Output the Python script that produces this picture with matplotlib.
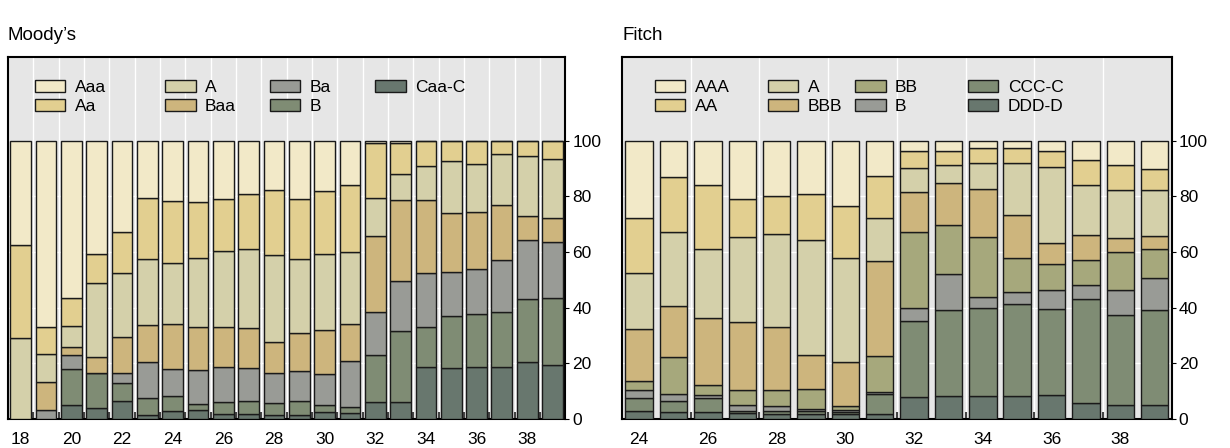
import numpy as np
import matplotlib
matplotlib.use("Agg")
import matplotlib.pyplot as plt
from matplotlib.legend import Legend

plt.rcParams['font.family'] = ['Liberation Sans', 'DejaVu Sans']

# Moody's: share of ratings by year (bottom to top)
moody_years = list(range(18, 40))
moody_labels = ["Caa-C", "B", "Ba", "Baa", "A", "Aa", "Aaa"]
moody_caa = [0, 0, 5.1, 3.9, 6.6, 1.6, 2.7, 3.3, 1.9, 1.8, 1.6, 1.6, 2.4, 2.1, 6.0, 6.0, 18.6, 18.5, 18.6, 18.6, 20.4, 19.3]
moody_b   = [0, 0, 12.8, 12.6, 6.5, 5.9, 5.4, 2.1, 4.3, 4.5, 4.1, 4.7, 2.6, 2.1, 17.0, 25.6, 14.3, 18.4, 19.0, 19.8, 22.6, 24.3]
moody_ba  = [0, 3.3, 5.1, 0, 3.4, 13.1, 9.8, 12.3, 12.4, 12.0, 11.0, 10.8, 11.2, 16.7, 15.4, 17.9, 19.5, 16.0, 16.1, 18.8, 21.4, 20.1]
moody_baa = [0, 9.9, 2.7, 5.9, 13.1, 13.2, 16.2, 15.5, 14.6, 14.3, 11.1, 13.7, 15.8, 13.2, 27.4, 29.0, 26.4, 21.1, 20.6, 19.6, 8.4, 8.5]
moody_a   = [29.0, 10.1, 7.7, 26.5, 22.7, 23.6, 22.0, 24.7, 27.2, 28.3, 31.0, 26.8, 27.4, 25.9, 13.7, 9.6, 12.0, 18.5, 17.2, 18.2, 21.6, 21.2]
moody_aa  = [33.4, 9.9, 10.2, 10.3, 14.9, 22.1, 22.1, 20.0, 18.7, 20.0, 23.5, 21.5, 22.5, 24.2, 19.5, 11.2, 9.2, 7.5, 8.5, 5.0, 5.6, 6.6]
moody_aaa = [37.6, 66.8, 56.4, 40.8, 32.8, 20.5, 21.8, 22.1, 20.9, 19.1, 17.7, 20.9, 18.1, 15.8, 1.0, 0.7, 0, 0, 0, 0, 0, 0]

# Fitch: share of ratings by year (bottom to top)
fitch_years = list(range(24, 40))
fitch_labels = ["DDD-D", "CCC-C", "B", "BB", "BBB", "A", "AA", "AAA"]
fitch_ddd = [3.0, 2.5, 2.4, 2.1, 1.9, 1.9, 1.8, 1.9, 7.9, 8.1, 8.1, 8.1, 8.5, 5.7, 5.0, 5.0]
fitch_ccc = [4.5, 4.1, 5.0, 0.9, 0.8, 0.8, 0.7, 7.2, 27.4, 31.0, 31.9, 33.1, 30.9, 37.4, 32.4, 34.1]
fitch_b   = [3.0, 2.5, 1.2, 2.1, 1.8, 0.9, 0.8, 0.7, 4.4, 12.8, 3.7, 4.5, 6.9, 5.0, 8.9, 11.6]
fitch_bb  = [3.3, 13.1, 3.7, 5.4, 6.0, 7.3, 1.2, 13.0, 27.5, 17.7, 21.7, 12.1, 9.3, 8.9, 13.7, 10.2]
fitch_bbb = [18.4, 18.5, 23.9, 24.2, 22.7, 12.1, 15.9, 34.0, 14.2, 15.2, 17.3, 15.6, 7.6, 9.0, 5.0, 4.9]
fitch_a   = [20.1, 26.5, 25.0, 30.5, 33.4, 41.2, 37.5, 15.5, 8.8, 6.5, 9.3, 18.5, 27.3, 17.9, 17.3, 16.3]
fitch_aa  = [19.9, 19.7, 22.7, 13.7, 13.5, 16.7, 18.7, 14.8, 6.2, 5.1, 5.4, 5.5, 5.8, 9.2, 9.1, 7.8]
fitch_aaa = [27.8, 13.1, 16.1, 21.1, 19.9, 19.1, 23.4, 12.9, 3.6, 3.6, 2.6, 2.6, 3.7, 6.9, 8.6, 10.1]

moody_colors = ["#68776e", "#7f8c74", "#999b96", "#cdb57d", "#d4d0aa", "#e2cf90", "#f2e9c8"]
fitch_colors = ["#68776e", "#7f8c74", "#999b96", "#a6a87c", "#cdb57d", "#d4d0aa", "#e2cf90", "#f2e9c8"]

# where each legend column starts, as a fraction of the axes width
moody_legend_x = [0.048, 0.282, 0.470, 0.659]
fitch_legend_x = [0.060, 0.265, 0.424, 0.629]


def draw_panel(ax, years, series, labels, colors, width, sep_ticks, title, legend_x):
    ax.set_facecolor("#e6e6e6")
    bottom = np.zeros(len(years))
    handles = []
    for vals, lab, col in zip(series, labels, colors):
        vals = np.array(vals, dtype=float)
        h = ax.bar(years, vals, width=width, bottom=bottom, color=col,
                   edgecolor="#1a1a1a", linewidth=1.0, label=lab, zorder=3)
        handles.append(h)
        bottom += vals
    ax.set_xlim(years[0] - 0.5, years[-1] + 0.5)
    ax.set_ylim(0, 130)
    ax.set_yticks([0, 20, 40, 60, 80, 100])
    ax.yaxis.tick_right()
    ax.tick_params(axis="y", labelsize=12.5, length=3, pad=2)
    ax.set_xticks([y for y in years if y % 2 == 0])
    ax.tick_params(axis="x", labelsize=12.5, length=0, pad=9)
    ax.set_xticks(sep_ticks, minor=True)
    ax.tick_params(axis="x", which="minor", direction="in", length=5, width=1.5, color="#444444")
    for x in sep_ticks:
        ax.axvline(x, color="white", linewidth=1.0, zorder=1)
    for y in [20, 40, 60, 80]:
        ax.axhline(y, color="white", linewidth=1.0, zorder=1)
    for s in ax.spines.values():
        s.set_linewidth(1.5)
        s.set_color("black")

    # legend: two rows per column, top rated first, one small legend per column
    order = list(reversed(handles))
    for i, lx in enumerate(legend_x):
        part = order[2 * i:2 * i + 2]
        leg = Legend(ax, part, [h.get_label() for h in part], loc="upper left",
                     bbox_to_anchor=(lx, 0.937), frameon=False, fontsize=12.5,
                     borderpad=0, borderaxespad=0,
                     handlelength=1.75, handleheight=0.7,
                     labelspacing=0.25, handletextpad=0.55)
        ax.add_artist(leg)
    ax.text(0.0, 1.047, title, transform=ax.transAxes, fontsize=13.5,
            ha="left", va="baseline")


fig = plt.figure(figsize=(12.3, 4.48), dpi=100)
ax1 = fig.add_axes([0.0065, 0.0647, 0.453, 0.808])
ax2 = fig.add_axes([0.5057, 0.0647, 0.447, 0.808])

draw_panel(ax1, moody_years,
           [moody_caa, moody_b, moody_ba, moody_baa, moody_a, moody_aa, moody_aaa],
           moody_labels, moody_colors, 0.82,
           [y + 0.5 for y in moody_years[:-1]], "Moody\u2019s", moody_legend_x)
draw_panel(ax2, fitch_years,
           [fitch_ddd, fitch_ccc, fitch_b, fitch_bb, fitch_bbb, fitch_a, fitch_aa, fitch_aaa],
           fitch_labels, fitch_colors, 0.8,
           [y + 0.5 for y in fitch_years[1:-1:2]], "Fitch", fitch_legend_x)

fig.savefig("out.png", dpi=100)
